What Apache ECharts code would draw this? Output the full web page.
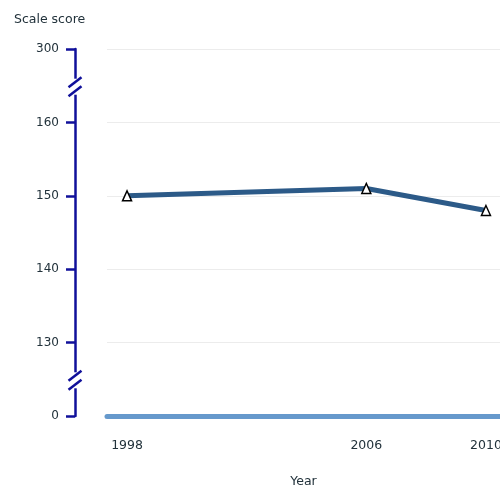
<!DOCTYPE html>
<html>
<head>
<meta charset="utf-8">
<script src="https://cdn.jsdelivr.net/npm/echarts@6/dist/echarts.min.js"></script>
<style>html,body{margin:0;padding:0;background:#fff}#c{width:500px;height:487px}</style>
</head>
<body>
<div id="c"></div>
<script>
// Data
const years = [1998, 2006, 2010];
const scores = [150, 151, 148];
// Y tick labels (axis with breaks between 0–130 and 160–300)
const yTicks = [0, 130, 140, 150, 160, 300];
// X tick labels
const xTicks = [1998, 2006, 2010];
// Break positions (between tick indexes)
const breakAfter = [0, 4];

function toPos(v) {
  for (let i = 0; i < yTicks.length - 1; i++) {
    if (v >= yTicks[i] && v <= yTicks[i + 1]) {
      return i + (v - yTicks[i]) / (yTicks[i + 1] - yTicks[i]);
    }
  }
  return v < yTicks[0] ? 0 : yTicks.length - 1;
}

const FONT = 'DejaVu Sans';
const AXIS_OFFSET = 32;
const xMin = 1997.33, xMax = 2010.47;

const chart = echarts.init(document.getElementById('c'));
chart.setOption({
  animation: false,
  backgroundColor: '#fff',
  title: {
    text: 'Scale score', left: 9, top: 8,
    textStyle: { fontFamily: FONT, fontSize: 12.5, fontWeight: 'normal', color: '#22323b' }
  },
  grid: { left: 107, right: 0, top: 49, bottom: 71, containLabel: false, outerBoundsMode: 'none' },
  xAxis: {
    type: 'value', min: xMin, max: xMax,
    name: 'Year', nameLocation: 'middle', nameGap: 59,
    nameTextStyle: { fontFamily: FONT, fontSize: 12.5, color: '#22323b' },
    axisLine: { show: true, lineStyle: { color: '#6699cc', width: 5, cap: 'round' } },
    axisTick: { show: false },
    splitLine: { show: false },
    axisLabel: {
      customValues: xTicks, margin: 23,
      fontFamily: FONT, fontSize: 12.5, color: '#22323b',
      formatter: v => String(v)
    }
  },
  yAxis: {
    type: 'value', min: 0, max: yTicks.length - 1, interval: 1,
    offset: AXIS_OFFSET,
    axisLine: { show: true, lineStyle: { color: '#10109a', width: 2.5 } },
    axisTick: { show: true, inside: false, length: 9, lineStyle: { color: '#10109a', width: 2.5 } },
    axisLabel: {
      margin: 16, fontFamily: FONT, fontSize: 12, color: '#22323b',
      formatter: v => String(yTicks[Math.round(v)])
    },
    splitLine: { show: true, lineStyle: { color: '#ececec', width: 1 } }
  },
  series: [
    {
      type: 'line',
      data: years.map((y, i) => [y, toPos(scores[i])]),
      lineStyle: { color: '#2c5a88', width: 5 },
      itemStyle: { color: '#ffffff', borderColor: '#000000', borderWidth: 1.5 },
      symbol: 'triangle', symbolSize: [9, 10], showSymbol: true,
      z: 3
    },
    {
      type: 'custom',
      clip: false,
      silent: true,
      z: 5,
      data: breakAfter.map(i => [xMin, i + 0.5]),
      renderItem: function (params, api) {
        const p = api.coord([api.value(0), api.value(1)]);
        const x = p[0] - AXIS_OFFSET, y = p[1] + 1;
        const stroke = { stroke: '#10109a', lineWidth: 2.5 };
        return {
          type: 'group',
          children: [
            { type: 'rect', shape: { x: x - 4, y: y - 8, width: 8, height: 16 }, style: { fill: '#ffffff' } },
            { type: 'line', shape: { x1: x - 6.5, y1: y + 0.5, x2: x + 6.5, y2: y - 9.5 }, style: stroke },
            { type: 'line', shape: { x1: x - 6.5, y1: y + 9.5, x2: x + 6.5, y2: y - 0.5 }, style: stroke }
          ]
        };
      }
    }
  ]
});
</script>
</body>
</html>
